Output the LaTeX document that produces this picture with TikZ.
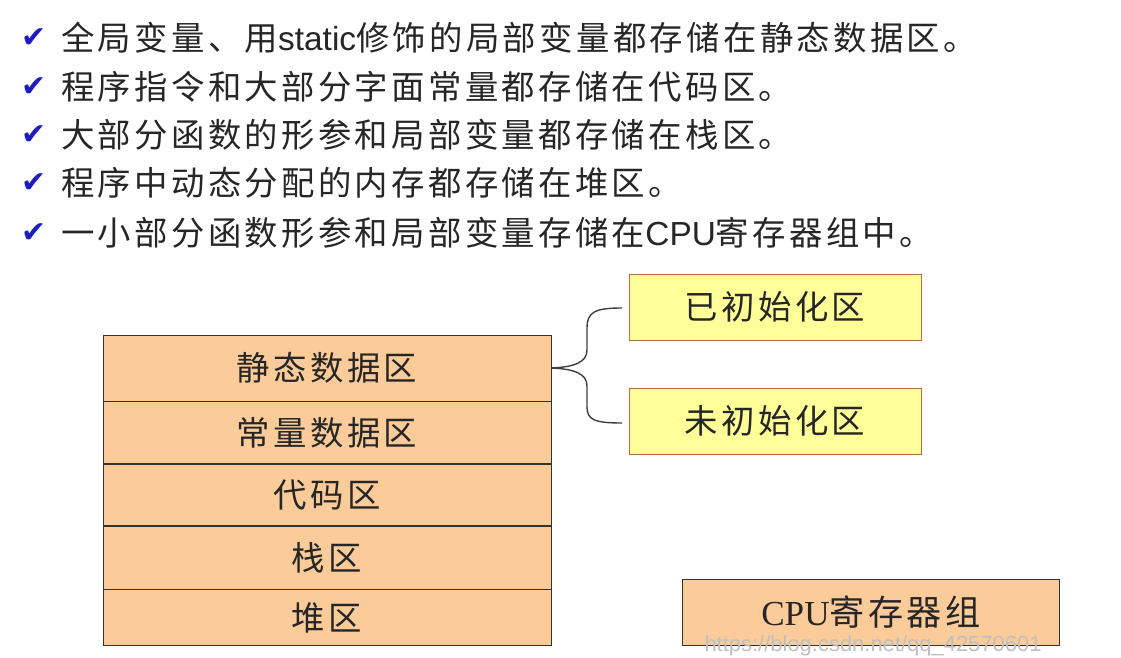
\documentclass[tikz,border=0pt]{standalone}
\usepackage{fontspec}
\setmainfont{Liberation Serif}
\newfontfamily\cjk[LetterSpace=10]{Noto Sans CJK SC}
\newfontfamily\symb{DejaVu Sans}
\newfontfamily\latin{Liberation Sans}
\usetikzlibrary{positioning}
\definecolor{peach}{RGB}{251,203,153}
\definecolor{paleyellow}{RGB}{255,255,153}
\definecolor{tickblue}{RGB}{30,30,190}
\definecolor{yellowedge}{RGB}{190,110,60}

\begin{document}
\begin{tikzpicture}[x=0.02cm, y=-0.02cm,
    checknode/.style={text=tickblue, inner sep=0pt, font=\symb\fontsize{17pt}{17pt}\selectfont},
    linenode/.style={inner sep=0pt, text=black!85, font=\cjk\fontsize{19pt}{19pt}\selectfont},
    memnode/.style={rectangle, draw=black!80, fill=peach, thin, minimum width=8.96cm, inner sep=0pt, text=black!85, font=\cjk\fontsize{19pt}{19pt}\selectfont},
    initnode/.style={rectangle, draw=yellowedge, fill=paleyellow, thin, minimum width=5.84cm, minimum height=1.32cm, inner sep=0pt, text=black!85, font=\cjk\fontsize{19pt}{19pt}\selectfont},
    regnode/.style={rectangle, draw=black!80, fill=peach, thin, minimum width=7.54cm, minimum height=1.32cm, inner sep=0pt, text=black!85, font=\fontsize{20pt}{20pt}\selectfont},
    bracestyle/.style={draw=black!75, line width=0.8pt}]

        \fill[white] (0,0) rectangle (1121,658);
        \useasboundingbox (0,0) rectangle (1121,658);

        % the five statements
        \node[checknode] (check1) at (34,38) {✔};
        \node[linenode, right=0.28cm of check1] (line1) {全局变量、用{\latin static}修饰的局部变量都存储在静态数据区。};
        \node[checknode] (check2) at (34,87) {✔};
        \node[linenode, right=0.28cm of check2] (line2) {程序指令和大部分字面常量都存储在代码区。};
        \node[checknode] (check3) at (34,135) {✔};
        \node[linenode, right=0.28cm of check3] (line3) {大部分函数的形参和局部变量都存储在栈区。};
        \node[checknode] (check4) at (34,183) {✔};
        \node[linenode, right=0.28cm of check4] (line4) {程序中动态分配的内存都存储在堆区。};
        \node[checknode] (check5) at (34,233) {✔};
        \node[linenode, right=0.28cm of check5] (line5) {一小部分函数形参和局部变量存储在{\latin CPU}寄存器组中。};

        % memory stack
        \node[memnode, minimum height=1.32cm] (static) at (327,368) {静态数据区};
        \node[memnode, minimum height=1.24cm] (const) [below=0pt of static] {常量数据区};
        \node[memnode, minimum height=1.22cm] (code) [below=0pt of const] {代码区};
        \node[memnode, minimum height=1.26cm] (stack) [below=0pt of code] {栈区};
        \node[memnode, minimum height=1.12cm] (heap) [below=0pt of stack] {堆区};

        \node[initnode] (init) at (775,307) {已初始化区};
        \node[initnode] (uninit) at (775,421) {未初始化区};

        \coordinate (bracetop) at (622,308);
        \coordinate (bracebot) at (622,423);
        \draw[bracestyle] (bracetop) .. controls (595,308) and (587,312) .. (587,328) -- (587,350)
            .. controls (587,362) and (575,367) .. (static.east)
            .. controls (575,369) and (587,374) .. (587,386) -- (587,407)
            .. controls (587,420) and (595,423) .. (bracebot);

        \node[regnode] (cpu) at (871,612) {CPU{\cjk 寄存器组}};

        \node[text=black!25, inner sep=0pt, font=\latin\fontsize{12.5pt}{12.5pt}\selectfont] (mark) at (873,646) {https://blog.csdn.net/qq\_42570601};

\end{tikzpicture}
\end{document}
